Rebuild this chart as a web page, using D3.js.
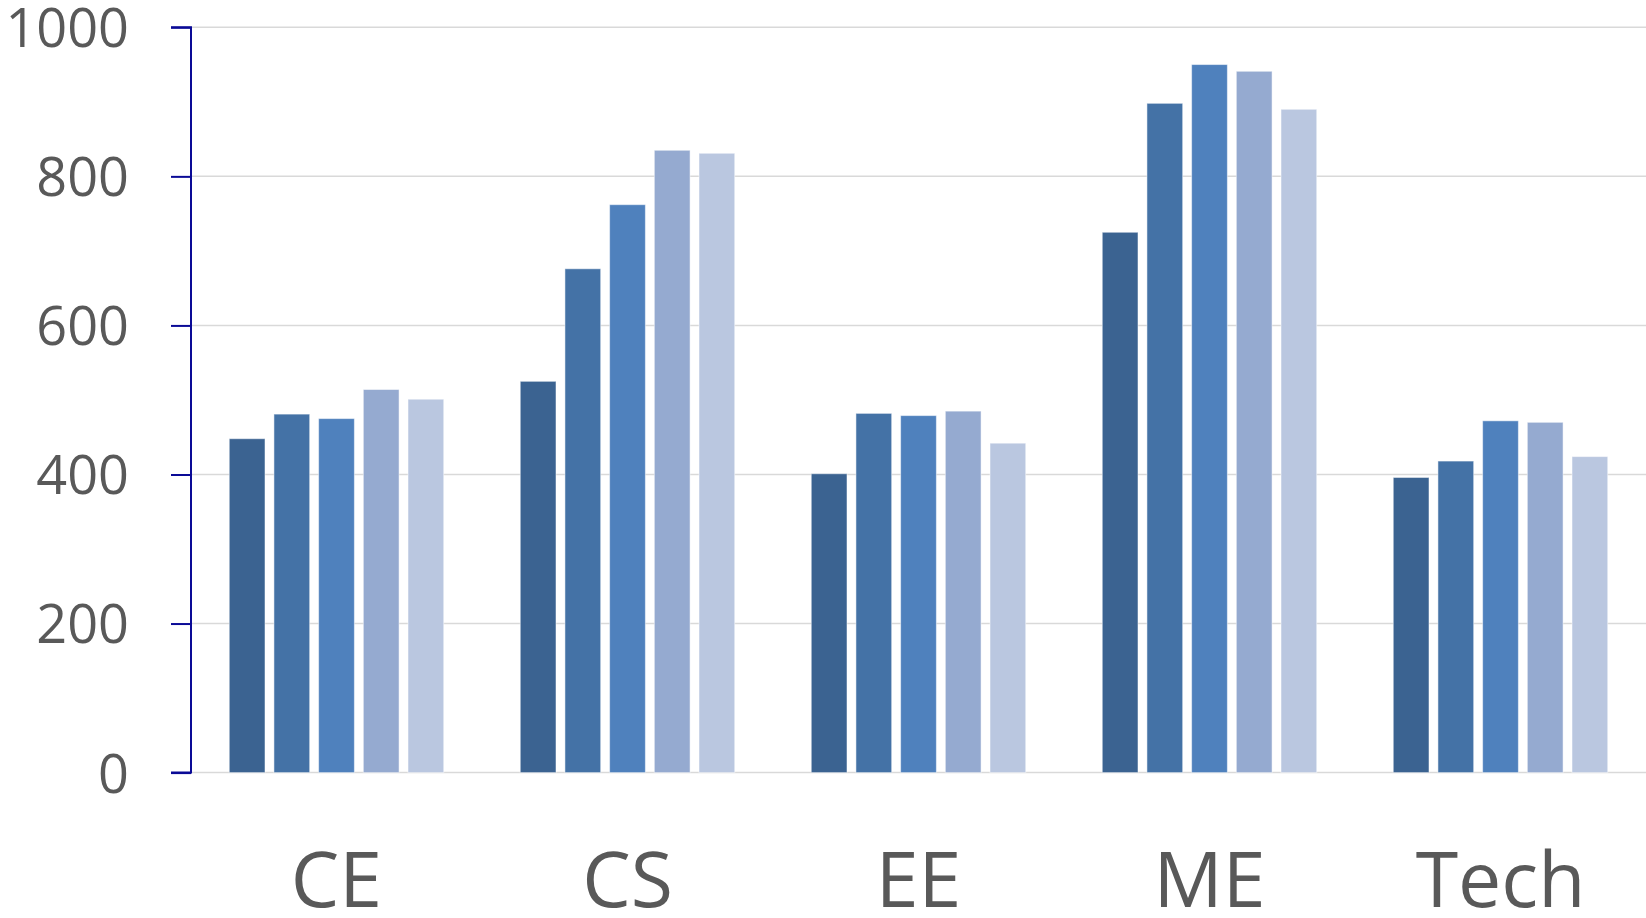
<!DOCTYPE html>
<html>
<head>
<meta charset="utf-8">
<script src="https://cdn.jsdelivr.net/npm/d3@7"></script>
<style>
html,body{margin:0;padding:0;background:#fff;}
svg{display:block;}
</style>
</head>
<body>
<svg id="chart" width="1646" height="918"></svg>
<script>
const categories = ["CE", "CS", "EE", "ME", "Tech"];
const seriesNames = ["S1", "S2", "S3", "S4", "S5"];
const series1 = [448, 525, 401, 725, 396];
const series2 = [481, 676, 482, 898, 418];
const series3 = [475, 762, 479, 950, 472];
const series4 = [514, 835, 485, 941, 470];
const series5 = [501, 831, 442, 890, 424];
const seriesValues = [series1, series2, series3, series4, series5];
const colors = ["#3B6391", "#4472A6", "#4F81BD", "#95AAD0", "#BAC7E0"];
const yTicks = [0, 200, 400, 600, 800, 1000];

(function () {
const svg = d3.select("#chart");
const mLeft = 191, mRight = 1646, mTop = 27.3, mBottom = 772.6;

const y = d3.scaleLinear().domain([0, 1000]).range([mBottom, mTop]);
const x0 = d3.scaleBand().domain(categories).range([mLeft, mRight]).padding(0);
const outer = 38.25;
const x1 = d3.scaleBand().domain(seriesNames)
  .range([outer, x0.bandwidth() - outer]).paddingInner(0.2).paddingOuter(0);

// gridlines
svg.append("g").selectAll("line").data(yTicks).join("line")
  .attr("x1", mLeft).attr("x2", mRight)
  .attr("y1", d => y(d)).attr("y2", d => y(d))
  .attr("stroke", "#D9D9D9").attr("stroke-width", 1.5);

// bars
const data = categories.map((c, i) => ({cat: c, vals: seriesNames.map((s, j) => ({s, j, v: seriesValues[j][i]}))}));
svg.append("g").selectAll("g").data(data).join("g")
  .attr("transform", d => `translate(${x0(d.cat)},0)`)
  .selectAll("rect").data(d => d.vals).join("rect")
  .attr("x", d => x1(d.s))
  .attr("width", x1.bandwidth())
  .attr("y", d => y(d.v))
  .attr("height", d => y(0) - y(d.v))
  .attr("fill", d => colors[d.j])
  .attr("stroke", "#ffffff").attr("stroke-opacity", 0.5).attr("stroke-width", 1);

// y axis
const yAxis = d3.axisLeft(y).tickValues(yTicks).tickFormat(d3.format("d")).tickSize(20).tickPadding(42);
const ga = svg.append("g").attr("transform", `translate(${mLeft},0)`).call(yAxis);
ga.select(".domain").attr("stroke", "#0A0A96").attr("stroke-width", 2).attr("d", `M-20,${mTop}H0V${mBottom}H-20`);
ga.selectAll(".tick line").attr("stroke", "#0A0A96").attr("stroke-width", 2);
ga.selectAll(".tick text")
  .attr("fill", "#595959")
  .attr("font-family", "'Open Sans', sans-serif")
  .attr("font-size", 54)
  .attr("dy", "0.36em");

// x labels
const xAxis = d3.axisBottom(x0).tickSize(0).tickPadding(0);
const gx = svg.append("g").attr("transform", `translate(0,${mBottom})`).call(xAxis);
gx.select(".domain").remove();
gx.selectAll(".tick text")
  .attr("fill", "#595959")
  .attr("font-family", "'Open Sans', sans-serif")
  .attr("font-size", 77)
  .attr("y", 907 - mBottom)
  .attr("dy", 0);
})();
</script>
</body>
</html>
